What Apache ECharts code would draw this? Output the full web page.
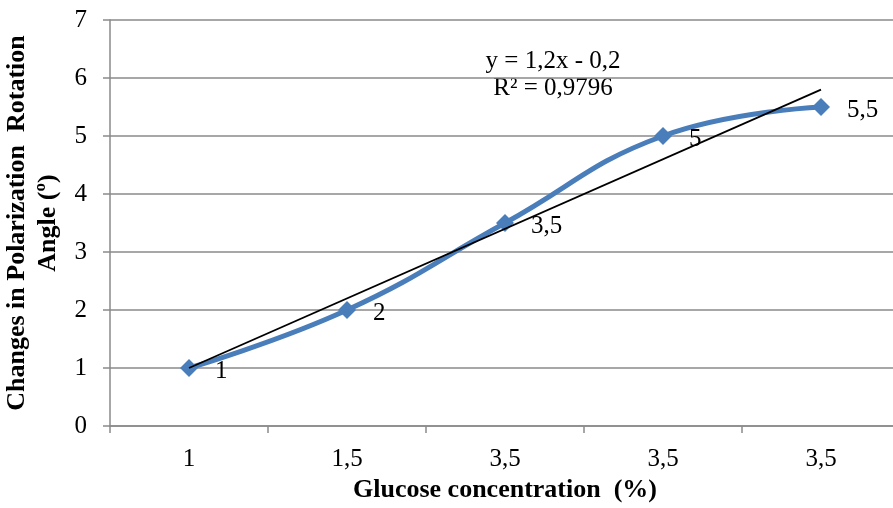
<!DOCTYPE html>
<html>
<head>
<meta charset="utf-8">
<script src="https://cdn.jsdelivr.net/npm/echarts@6/dist/echarts.min.js"></script>
<style>
  html, body { margin: 0; padding: 0; background: #fff; }
  #chart { width: 893px; height: 508px; }
</style>
</head>
<body>
<div id="chart"></div>
<script>
// x labels as printed on the original chart
let categories = ["1", "1,5", "3,5", "3,5", "3,5"];
let angleValues = [1, 2, 3.5, 5, 5.5];
let pointLabels = ["1", "2", "3,5", "5", "5,5"];
// linear trend, end points
let trendValues = [1.0, null, null, null, 5.8];
let equationLines = ["y = 1,2x - 0,2", "R² = 0,9796"];

let serif = "'Liberation Serif', 'Times New Roman', serif";

var myChart = echarts.init(document.getElementById("chart"));

var option = {
  animation: false,
  textStyle: { fontFamily: serif },
  grid: { left: 110, top: 20, width: 790, height: 406, outerBoundsMode: "none", containLabel: false },
  xAxis: {
    type: "category",
    data: categories,
    boundaryGap: true,
    name: "Glucose concentration  (%)",
    nameLocation: "middle",
    nameGap: 51,
    nameTextStyle: { fontFamily: serif, fontSize: 26, fontWeight: "bold", color: "#000" },
    axisLine: { lineStyle: { color: "#8a8a8a", width: 1.5 } },
    axisTick: { show: true, length: 7, lineStyle: { color: "#8a8a8a", width: 1.5 } },
    axisLabel: { fontFamily: serif, fontSize: 25, color: "#000", margin: 21 },
    splitLine: { show: false },
  },
  yAxis: {
    type: "value",
    min: 0,
    max: 7,
    interval: 1,
    name: "Changes in Polarization  Rotation\nAngle (º)",
    nameLocation: "middle",
    nameRotate: 90,
    nameGap: 42,
    nameTextStyle: { fontFamily: serif, fontSize: 26, fontWeight: "bold", color: "#000", lineHeight: 31 },
    axisLine: { show: true, lineStyle: { color: "#8a8a8a", width: 1.5 } },
    axisTick: { show: true, length: 7, lineStyle: { color: "#8a8a8a", width: 1.5 } },
    axisLabel: { fontFamily: serif, fontSize: 25, color: "#000", margin: 23 },
    splitLine: { show: true, lineStyle: { color: "#8a8a8a", width: 1.5 } },
  },
  series: [
    {
      type: "line",
      data: angleValues,
      smooth: 0.45,
      symbol: "diamond",
      symbolSize: 18,
      lineStyle: { color: "#4a7ebb", width: 5 },
      itemStyle: { color: "#4a7ebb" },
      label: {
        show: true,
        position: "right",
        distance: 8,
        offset: [9, 3],
        fontFamily: serif,
        fontSize: 25,
        color: "#000",
        formatter: function (p) {
          return pointLabels[p.dataIndex];
        },
      },
      z: 2,
    },
    {
      type: "line",
      data: trendValues,
      connectNulls: true,
      showSymbol: false,
      symbol: "none",
      lineStyle: { color: "#000", width: 1.8 },
      z: 3,
    },
  ],
  graphic: [
    {
      type: "text",
      x: 553,
      y: 48,
      style: {
        text: equationLines.join("\n"),
        fontFamily: serif,
        fontSize: 25,
        lineHeight: 27,
        fill: "#000",
        align: "center",
        verticalAlign: "top",
      },
    },
  ],
};

option && myChart.setOption(option);
</script>
</body>
</html>
